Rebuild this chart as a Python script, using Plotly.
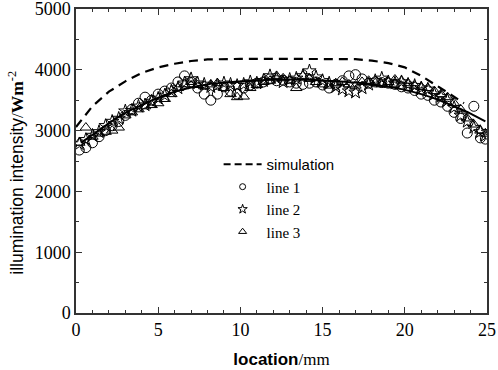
import plotly.graph_objects as go

X = [0.2, 0.6, 1.0, 1.4, 1.8, 2.2, 2.6, 3.0, 3.4, 3.8, 4.2, 4.6, 5.0, 5.4, 5.8, 6.2,
     6.6, 7.0, 7.4, 7.8, 8.2, 8.6, 9.0, 9.4, 9.8, 10.2, 10.6, 11.0, 11.4, 11.8, 12.2,
     12.6, 13.0, 13.4, 13.8, 14.2, 14.6, 15.0, 15.4, 15.8, 16.2, 16.6, 17.0, 17.4,
     17.8, 18.2, 18.6, 19.0, 19.4, 19.8, 20.2, 20.6, 21.0, 21.4, 21.8, 22.2, 22.6,
     23.0, 23.4, 23.8, 24.2, 24.6, 24.9]

line1 = [2680, 2720, 2800, 2900, 3000, 3080, 3150, 3250, 3350, 3450, 3550, 3500, 3600,
         3650, 3700, 3800, 3900, 3800, 3700, 3600, 3500, 3600, 3720, 3650, 3600, 3700,
         3750, 3780, 3800, 3850, 3820, 3830, 3800, 3780, 3760, 3780, 3800, 3750, 3700,
         3760, 3820, 3900, 3920, 3850, 3780, 3800, 3790, 3780, 3760, 3720, 3700, 3660,
         3600, 3580, 3500, 3470, 3400, 3300, 3200, 2960, 3400, 2880, 2860]

line2 = [2780, 2850, 2920, 2980, 3080, 3150, 3200, 3320, 3330, 3400, 3420, 3480, 3530,
         3580, 3650, 3700, 3780, 3850, 3780, 3760, 3720, 3750, 3780, 3760, 3740, 3760,
         3800, 3780, 3820, 3900, 3860, 3800, 3840, 3860, 3900, 3980, 3880, 3820, 3780,
         3720, 3680, 3650, 3630, 3700, 3760, 3820, 3860, 3800, 3780, 3800, 3760, 3740,
         3700, 3680, 3600, 3560, 3500, 3380, 3250, 3150, 3050, 2980, 2920]

line3 = [2800, 3050, 2900, 2950, 2980, 3000, 3050, 3250, 3300, 3350, 3400, 3420, 3450,
         3520, 3600, 3700, 3760, 3800, 3750, 3730, 3760, 3780, 3700, 3600, 3550, 3560,
         3700, 3750, 3800, 3820, 3900, 3860, 3820, 3700, 3900, 3850, 3800, 3760, 3740,
         3780, 3800, 3760, 3740, 3800, 3820, 3780, 3760, 3800, 3840, 3820, 3780, 3740,
         3720, 3700, 3650, 3600, 3550, 3450, 3350, 3200, 3100, 3000, 2950]

fit_x = [0.3, 1, 2, 3, 4, 5, 6, 7, 8, 9, 10, 11, 12, 13, 14, 15, 16, 17, 18, 19, 20,
         21, 22, 23, 24, 24.9]
fit_y = [2800, 2930, 3120, 3290, 3420, 3540, 3640, 3710, 3760, 3790, 3810, 3825, 3835,
         3840, 3835, 3825, 3810, 3790, 3760, 3720, 3670, 3600, 3510, 3400, 3280, 3150]

sim_x = [0.0, 0.5, 1, 2, 3, 4, 5, 6, 7, 8, 9, 10, 12, 14, 16, 17, 18, 19, 20, 21, 22,
         23, 23.6]
sim_y = [3060, 3240, 3400, 3640, 3810, 3950, 4040, 4100, 4145, 4170, 4180, 4180, 4180,
         4180, 4180, 4175, 4150, 4110, 4040, 3900, 3730, 3560, 3450]

SERIF = "Liberation Serif"
SANS = "Liberation Sans"

fig = go.Figure()

fig.add_trace(go.Scatter(x=sim_x, y=sim_y, mode="lines", showlegend=False,
                         line=dict(color="black", width=2.2, dash="9px,6px")))
fig.add_trace(go.Scatter(x=X, y=line1, mode="markers", showlegend=False,
                         marker=dict(symbol="circle-open", size=10,
                                     color="black", line=dict(width=1))))
fig.add_trace(go.Scatter(x=X, y=line2, mode="markers", showlegend=False,
                         marker=dict(symbol="star-open", size=10,
                                     color="black", line=dict(width=1))))
fig.add_trace(go.Scatter(x=X, y=line3, mode="markers", showlegend=False,
                         marker=dict(symbol="triangle-up-open", size=10,
                                     color="black", line=dict(width=1))))
fig.add_trace(go.Scatter(x=fit_x, y=fit_y, mode="lines", showlegend=False,
                         line=dict(color="black", width=2, shape="spline")))

# legend entries
fig.add_trace(go.Scatter(x=[None], y=[None], mode="lines",
                         name=f'<span style="font-family:{SANS}">simulation</span>',
                         line=dict(color="black", width=2, dash="7px,4px")))
fig.add_trace(go.Scatter(x=[None], y=[None], mode="markers", name="line 1",
                         marker=dict(symbol="circle-open", size=6, color="black",
                                     line=dict(width=1))))
fig.add_trace(go.Scatter(x=[None], y=[None], mode="markers", name="line 2",
                         marker=dict(symbol="star-open", size=7, color="black",
                                     line=dict(width=1))))
fig.add_trace(go.Scatter(x=[None], y=[None], mode="markers", name="line 3",
                         marker=dict(symbol="triangle-up-open", size=7, color="black",
                                     line=dict(width=1))))

axis_common = dict(
    showline=True, linecolor="#333", linewidth=1.5, mirror="ticks",
    ticks="inside", ticklen=6, tickwidth=1, tickcolor="#333",
    showgrid=False, zeroline=False, automargin=False,
    ticklabeloverflow="allow",
    tickfont=dict(family=SERIF, size=18, color="black"),
)

fig.update_layout(
    width=498, height=370,
    margin=dict(l=76, r=11, t=9, b=57),
    plot_bgcolor="white", paper_bgcolor="white",
    xaxis=dict(range=[0, 25], dtick=5,
               minor=dict(dtick=1, ticks="inside", ticklen=3, tickcolor="#333"),
               title=dict(text=f'<span style="font-family:{SANS}"><b>location</b></span>'
                               f'<span style="font-family:{SERIF}">/mm</span>',
                          font=dict(size=17, color="black"), standoff=14),
               **axis_common),
    yaxis=dict(range=[0, 5000], dtick=1000,
               minor=dict(dtick=500, ticks="inside", ticklen=3, tickcolor="#333"),
               **axis_common),
    annotations=[dict(
        text=f'<span style="font-family:{SANS}">illumination intensity</span>'
             f'<span style="font-family:{SERIF}">/<b>Wm</b><sup>-2</sup></span>',
        font=dict(size=17.5, color="black"), textangle=-90,
        xref="paper", yref="paper", x=-0.148, y=0.462,
        xanchor="center", yanchor="middle", showarrow=False)],
    legend=dict(x=0.347, y=0.543, xanchor="left", yanchor="top",
                bgcolor="rgba(0,0,0,0)", borderwidth=0, itemwidth=38,
                font=dict(family=SERIF, size=15, color="black"),
                tracegroupgap=0),
    showlegend=True,
)

fig.write_html("out.html", config={"displayModeBar": False},
               post_script="document.body.style.margin='0';")
